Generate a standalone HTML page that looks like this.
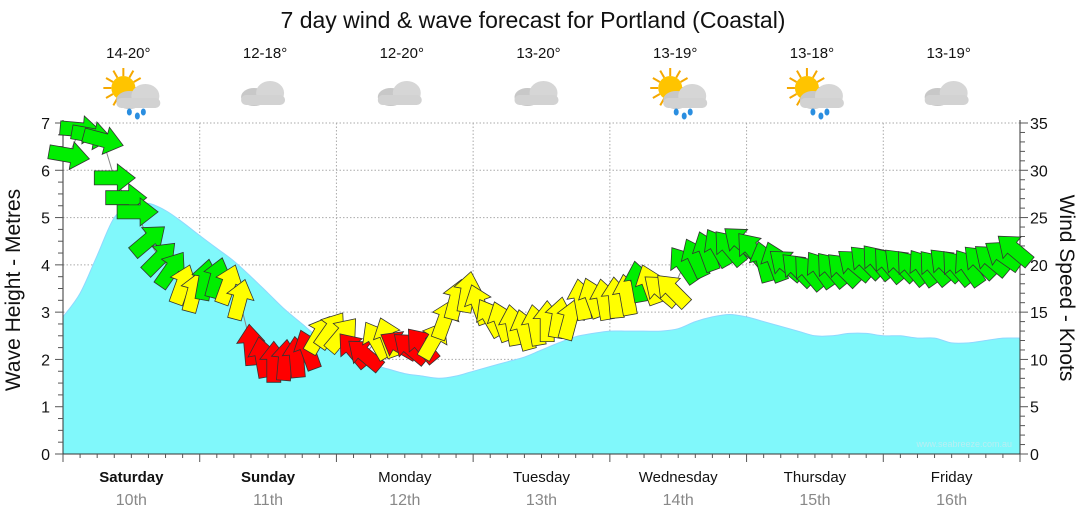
<!DOCTYPE html>
<html><head><meta charset="utf-8"><style>
html,body{margin:0;padding:0;background:#fff;}
svg{display:block;font-family:"Liberation Sans","DejaVu Sans",sans-serif;}
</style></head><body>
<svg id="chart" width="1080" height="522" viewBox="0 0 1080 522" xmlns="http://www.w3.org/2000/svg">
<text x="533" y="28" font-size="23" text-anchor="middle" fill="#111">7 day wind &amp; wave forecast for Portland (Coastal)</text>
<g id="weather"></g>
<g id="grid"></g>
<g id="waves"></g>
<g id="axes"></g>
<g id="wind"></g>
<text transform="translate(20,290) rotate(-90)" font-size="21" text-anchor="middle" fill="#111">Wave Height - Metres</text>
<text transform="translate(1060,288) rotate(90)" font-size="21" text-anchor="middle" fill="#111">Wind Speed - Knots</text>
<text x="1012" y="447" font-size="9" text-anchor="end" fill="#b8eef2">www.seabreeze.com.au</text>
</svg>
<script>
const days=["Saturday","Sunday","Monday","Tuesday","Wednesday","Thursday","Friday"];
const dates=["10th","11th","12th","13th","14th","15th","16th"];
const temps=["14-20°","12-18°","12-20°","13-20°","13-19°","13-18°","13-19°"];
const icons=["sunrain","cloud","cloud","cloud","sunrain","sunrain","cloud"];
const waveHeights=[2.9,3.4,4.2,5.0,5.25,5.3,5.15,4.9,4.62,4.35,4.08,3.75,3.4,3.05,2.75,2.45,2.22,2.05,1.9,1.8,1.7,1.65,1.6,1.65,1.75,1.85,1.95,2.05,2.2,2.35,2.48,2.55,2.6,2.6,2.6,2.6,2.65,2.8,2.9,2.95,2.9,2.8,2.7,2.6,2.5,2.5,2.55,2.55,2.5,2.5,2.45,2.45,2.35,2.35,2.4,2.45,2.45];
const windSpeeds=[31.6,34.3,33.7,33.2,29.2,27.1,25.6,22.6,20.7,19.5,17.9,17.1,18.4,18.6,17.9,16.3,11.5,10.2,9.7,9.9,10.2,11,12.6,13.1,12.6,11,10.5,12,12.3,11.5,11.2,11.5,12,14.2,16.3,17.1,15.8,14.4,14,13.6,13.1,13.6,14,14.4,14.2,16.3,16.5,16.3,16.5,16.8,18.2,17.9,17.3,17.3,20,20.7,21.4,21.8,21.8,22.4,21.6,20.3,20.3,20,19.5,19.2,19.5,19.5,19.5,20,20.3,20.3,20,20,19.7,19.7,19.7,20,19.7,19.7,20.3,20.5,21,21.6];
const windDirs=[10,5,10,15,0,0,0,-40,-45,-55,-70,-75,-80,-75,-70,-75,-95,-100,-90,-85,-95,-110,-60,-55,-50,-130,-140,-120,-110,-150,-140,-130,-60,-70,-75,-80,-110,-120,-110,-100,-105,-100,-90,-80,-75,-100,-110,-100,-95,-100,-100,-110,-140,-135,-125,-115,-110,-120,-130,-140,-130,-105,-110,-140,-135,-130,-125,-130,-135,-140,-135,-130,-130,-135,-130,-125,-130,-135,-130,-125,-135,-140,-145,-140];
const waveTicks=[0,1,2,3,4,5,6,7];
const windTicks=[0,5,10,15,20,25,30,35];

const NS="http://www.w3.org/2000/svg";
const X0=63,X1=1020,Y0=454,Y1=123,DAYW=(X1-X0)/7;
const xHour=h=>X0+h/168*(X1-X0);
const yWave=v=>Y0-v/7*(Y0-Y1);
const yWind=v=>Y0-v/35*(Y0-Y1);
function el(tag,attrs,parent){const e=document.createElementNS(NS,tag);for(const k in attrs)e.setAttribute(k,attrs[k]);parent.appendChild(e);return e;}
const G=id=>document.getElementById(id);

const grid=G('grid');
waveTicks.forEach(t=>{if(t>0){const l=el('line',{x1:X0,x2:X1,y1:yWave(t),y2:yWave(t),stroke:'#aaa','stroke-dasharray':'1.5,2'},grid);

}});
for(let d=1;d<7;d++){const x=X0+d*DAYW;const l=el('line',{x1:x,x2:x,y1:Y1,y2:Y0,stroke:'#aaa','stroke-dasharray':'1.5,2'},grid);

}

// waves (smoothed)
const pts=waveHeights.map((v,i)=>[xHour(i*3),yWave(v)]);
let d='M'+X0+','+Y0+' L'+pts[0][0].toFixed(1)+','+pts[0][1].toFixed(1);
for(let i=0;i<pts.length-1;i++){const p0=pts[Math.max(0,i-1)],p1=pts[i],p2=pts[i+1],p3=pts[Math.min(pts.length-1,i+2)];
d+=' C'+(p1[0]+(p2[0]-p0[0])/6).toFixed(1)+','+(p1[1]+(p2[1]-p0[1])/6).toFixed(1)+' '+(p2[0]-(p3[0]-p1[0])/6).toFixed(1)+','+(p2[1]-(p3[1]-p1[1])/6).toFixed(1)+' '+p2[0].toFixed(1)+','+p2[1].toFixed(1);}
d+=' L'+pts[pts.length-1][0].toFixed(1)+','+Y0+' Z';
const wa=el('path',{d:d,fill:'#80f8fb',stroke:'#8fd8ff','stroke-width':1},G('waves'));



const ax=G('axes');
el('line',{x1:X0,x2:X0,y1:Y1-3,y2:Y0,stroke:'#333'},ax);
el('line',{x1:X1,x2:X1,y1:Y1-3,y2:Y0,stroke:'#333'},ax);
el('line',{x1:X0,x2:X1,y1:Y0,y2:Y0,stroke:'#333'},ax);
for(let v=0;v<=7.001;v+=0.25){const major=Math.abs(v-Math.round(v))<0.01;el('line',{x1:X0-(major?8:5),x2:X0,y1:yWave(v),y2:yWave(v),stroke:'#555'},ax);}
for(let v=0;v<=35;v+=1){const major=v%5==0;el('line',{x1:X1,x2:X1+(major?8:5),y1:yWind(v),y2:yWind(v),stroke:'#555'},ax);}
waveTicks.forEach(t=>{const tx=el('text',{x:50,y:yWave(t)+6,'font-size':16,'text-anchor':'end',fill:'#111'},ax);tx.textContent=t;

});
windTicks.forEach(t=>{const tx=el('text',{x:1030,y:yWind(t)+6,'font-size':16,fill:'#111'},ax);tx.textContent=t;

});
for(let h=0;h<=168;h+=3){const x=xHour(h);el('line',{x1:x,x2:x,y1:Y0,y2:Y0+(h%24==0?8:4),stroke:'#555'},ax);}
days.forEach((n,i)=>{const cx=X0+(i+0.5)*DAYW;
const t1=el('text',{x:cx,y:482,'font-size':15,'text-anchor':'middle',fill:'#111','font-weight':i<2?'bold':'normal'},ax);t1.textContent=n;


const t2=el('text',{x:cx,y:505,'font-size':16,'text-anchor':'middle',fill:'#888'},ax);t2.textContent=dates[i];

});

const wg=G('weather');
function cloud(g,x,y){el('ellipse',{cx:x-8,cy:y+4,rx:13,ry:9,fill:'#c8c8c8'},g);el('ellipse',{cx:x+8,cy:y,rx:14,ry:12,fill:'#d6d6d6'},g);el('rect',{x:x-21,y:y+2,width:44,height:10,rx:5,fill:'#d2d2d2'},g);}
temps.forEach((t,i)=>{const cx=X0+(i+0.5)*DAYW;
const tx=el('text',{x:cx-3,y:58,'font-size':15,'text-anchor':'middle',fill:'#111'},wg);tx.textContent=t;


const g=el('g',{},wg);


if(icons[i]=='sunrain'){for(let a=0;a<360;a+=30){const r=a*Math.PI/180;el('line',{x1:cx-8+Math.cos(r)*12,y1:88+Math.sin(r)*12,x2:cx-8+Math.cos(r)*20,y2:88+Math.sin(r)*20,stroke:'#f5a800','stroke-width':2},g);}
el('circle',{cx:cx-8,cy:88,r:12,fill:'#ffc400'},g);cloud(g,cx+6,96);
[[-2,112],[6,116],[12,112]].forEach(p=>el('ellipse',{cx:cx+p[0],cy:p[1],rx:2.5,ry:3.5,fill:'#2a8ee0'},g));}
else{cloud(g,cx-6,93);}});

const wd=G('wind');
let pd='';windSpeeds.forEach((s,i)=>{pd+=(i?' L':'M')+xHour(i*2+1).toFixed(1)+','+yWind(s).toFixed(1);});
const ln=el('path',{d:pd,fill:'none',stroke:'#888','stroke-width':1},wd);


windSpeeds.forEach((s,i)=>{const x=xHour(i*2+1),y=yWind(s);const col=s<12?'#ff0000':(s<18?'#ffff00':'#00ee00');
const p=el('polygon',{points:'-20,-7 3,-7 3,-14 21,0 3,14 3,7 -20,7',fill:col,stroke:'#333','stroke-width':0.8,transform:'translate('+x.toFixed(1)+','+y.toFixed(1)+') rotate('+windDirs[i]+')'},wd);

});
</script>
</body></html>
